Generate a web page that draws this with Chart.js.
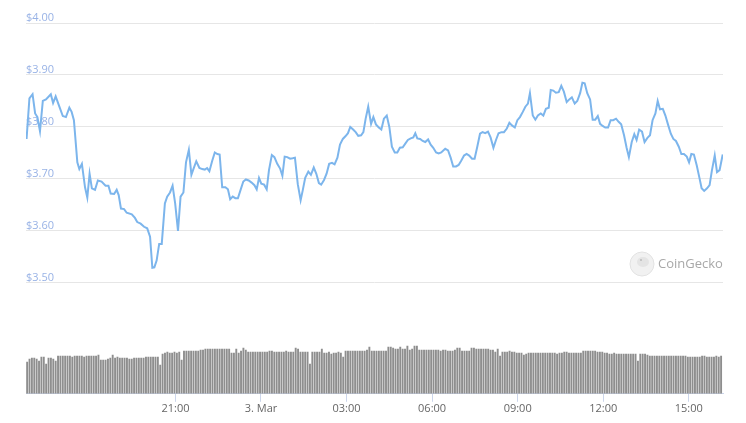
<!DOCTYPE html>
<html>
<head>
<meta charset="utf-8">
<script src="https://cdn.jsdelivr.net/npm/chart.js@4"></script>
<style>
  html, body { margin: 0; padding: 0; background: #fff; }
  #wrap { width: 746px; height: 423px; }
</style>
</head>
<body>
<div id="wrap"><canvas id="chart"></canvas></div>
<script>
// time in hours from 2 Mar 00:00 (24 = 3 Mar 00:00)
const priceTimes = [
  15.78, 15.88, 15.99, 16.08, 16.16, 16.25, 16.35, 16.46, 16.63, 16.71,
  16.80, 16.93, 17.05, 17.16, 17.28, 17.36, 17.44, 17.56, 17.63, 17.72,
  17.83, 17.91, 17.99, 18.07, 18.18, 18.28, 18.41, 18.55, 18.65, 18.73,
  18.85, 18.94, 19.01, 19.09, 19.20, 19.29, 19.47, 19.58, 19.66, 19.78,
  19.90, 20.01, 20.11, 20.19, 20.26, 20.34, 20.43, 20.52, 20.63, 20.71,
  20.81, 20.90, 20.99, 21.09, 21.18, 21.28, 21.37, 21.47, 21.56, 21.63,
  21.73, 21.84, 21.94, 22.03, 22.11, 22.19, 22.29, 22.38, 22.47, 22.55,
  22.64, 22.75, 22.84, 22.92, 23.01, 23.10, 23.19, 23.29, 23.38, 23.47,
  23.57, 23.67, 23.77, 23.85, 23.93, 24.01, 24.11, 24.20, 24.28, 24.38,
  24.47, 24.57, 24.67, 24.75, 24.83, 24.92, 25.02, 25.11, 25.19, 25.29,
  25.39, 25.46, 25.55, 25.66, 25.75, 25.85, 25.94, 26.03, 26.11, 26.21,
  26.30, 26.39, 26.49, 26.58, 26.68, 26.77, 26.87, 26.96, 27.05, 27.13,
  27.23, 27.32, 27.41, 27.51, 27.59, 27.67, 27.76, 27.86, 27.94, 28.03,
  28.13, 28.22, 28.31, 28.41, 28.50, 28.59, 28.69, 28.78, 28.87, 28.97,
  29.06, 29.15, 29.25, 29.34, 29.41, 29.48, 29.58, 29.67, 29.76, 29.86,
  29.95, 30.04, 30.14, 30.23, 30.32, 30.46, 30.56, 30.65, 30.74, 30.84,
  30.93, 31.02, 31.12, 31.21, 31.30, 31.40, 31.49, 31.58, 31.68, 31.77,
  31.86, 31.96, 32.05, 32.15, 32.24, 32.33, 32.43, 32.52, 32.62, 32.71,
  32.80, 32.90, 32.99, 33.08, 33.18, 33.27, 33.36, 33.43, 33.53, 33.62,
  33.71, 33.81, 33.90, 33.99, 34.09, 34.16, 34.25, 34.34, 34.44, 34.53,
  34.62, 34.72, 34.81, 34.90, 35.00, 35.09, 35.19, 35.27, 35.35, 35.44,
  35.54, 35.63, 35.72, 35.81, 35.89, 35.98, 36.07, 36.17, 36.26, 36.35,
  36.45, 36.54, 36.63, 36.73, 36.82, 36.90, 37.00, 37.09, 37.17, 37.26,
  37.36, 37.45, 37.55, 37.64, 37.73, 37.83, 37.91, 37.99, 38.09, 38.18,
  38.27, 38.37, 38.46, 38.55, 38.65, 38.74, 38.83, 38.93, 39.01, 39.09,
  39.18, 39.28, 39.37, 39.45, 39.54, 39.64, 39.73, 39.81, 39.91, 39.99,
  40.08, 40.19
];
const prices = [
  3.777, 3.855, 3.863, 3.826, 3.819, 3.792, 3.850, 3.853, 3.863, 3.846,
  3.859, 3.839, 3.821, 3.819, 3.837, 3.829, 3.813, 3.732, 3.719, 3.729,
  3.684, 3.664, 3.710, 3.682, 3.679, 3.697, 3.695, 3.687, 3.687, 3.672,
  3.671, 3.679, 3.669, 3.643, 3.642, 3.635, 3.632, 3.625, 3.617, 3.614,
  3.608, 3.605, 3.589, 3.529, 3.530, 3.543, 3.575, 3.575, 3.653, 3.666,
  3.674, 3.687, 3.653, 3.600, 3.666, 3.674, 3.732, 3.756, 3.708, 3.719,
  3.734, 3.721, 3.719, 3.718, 3.721, 3.715, 3.735, 3.751, 3.748, 3.747,
  3.684, 3.684, 3.680, 3.661, 3.666, 3.663, 3.663, 3.680, 3.695, 3.699,
  3.697, 3.693, 3.688, 3.680, 3.702, 3.691, 3.689, 3.680, 3.717, 3.746,
  3.742, 3.729, 3.720, 3.706, 3.743, 3.742, 3.739, 3.740, 3.741, 3.690,
  3.659, 3.677, 3.702, 3.714, 3.708, 3.722, 3.710, 3.692, 3.689, 3.698,
  3.710, 3.729, 3.731, 3.728, 3.741, 3.766, 3.777, 3.782, 3.788, 3.800,
  3.795, 3.790, 3.783, 3.784, 3.790, 3.816, 3.839, 3.806, 3.819, 3.805,
  3.799, 3.795, 3.816, 3.822, 3.800, 3.762, 3.751, 3.751, 3.760, 3.761,
  3.768, 3.775, 3.778, 3.780, 3.788, 3.778, 3.777, 3.773, 3.771, 3.776,
  3.766, 3.760, 3.751, 3.749, 3.751, 3.758, 3.755, 3.741, 3.724, 3.724,
  3.727, 3.735, 3.745, 3.748, 3.745, 3.739, 3.739, 3.761, 3.787, 3.790,
  3.788, 3.791, 3.780, 3.760, 3.775, 3.788, 3.790, 3.790, 3.797, 3.808,
  3.803, 3.799, 3.813, 3.819, 3.829, 3.839, 3.845, 3.865, 3.822, 3.814,
  3.822, 3.826, 3.822, 3.835, 3.837, 3.871, 3.870, 3.866, 3.867, 3.879,
  3.868, 3.848, 3.853, 3.857, 3.845, 3.850, 3.865, 3.885, 3.884, 3.865,
  3.853, 3.814, 3.814, 3.821, 3.806, 3.802, 3.799, 3.799, 3.813, 3.813,
  3.816, 3.810, 3.805, 3.784, 3.760, 3.742, 3.771, 3.786, 3.775, 3.795,
  3.791, 3.771, 3.779, 3.784, 3.813, 3.826, 3.850, 3.834, 3.835, 3.822,
  3.805, 3.787, 3.777, 3.773, 3.762, 3.748, 3.748, 3.743, 3.732, 3.748,
  3.747, 3.726, 3.703, 3.682, 3.677, 3.682, 3.688, 3.716, 3.745, 3.713,
  3.717, 3.747
];

// 5 minute volume bars (in $M), first bar at 15:48
const volStart = 15.80;
const volStep = 1 / 12;
const volumes = [
  3.2, 3.5, 3.6, 3.6, 3.5, 3.3, 3.7, 3.7, 3.0, 3.6,
  3.6, 3.5, 3.3, 3.8, 3.8, 3.8, 3.8, 3.8, 3.8, 3.7,
  3.8, 3.8, 3.8, 3.8, 3.7, 3.8, 3.8, 3.8, 3.8, 3.8,
  3.9, 3.4, 3.4, 3.4, 3.5, 3.6, 3.9, 3.6, 3.7, 3.6,
  3.6, 3.6, 3.6, 3.5, 3.5, 3.6, 3.6, 3.6, 3.6, 3.6,
  3.7, 3.7, 3.7, 3.7, 3.7, 3.7, 2.9, 4.0, 4.1, 4.2,
  4.1, 4.1, 4.2, 4.1, 4.2, 3.4, 4.3, 4.3, 4.3, 4.3,
  4.3, 4.3, 4.3, 4.4, 4.4, 4.5, 4.5, 4.5, 4.5, 4.5,
  4.5, 4.5, 4.5, 4.5, 4.5, 4.5, 4.1, 4.1, 4.5, 4.1,
  4.3, 4.6, 4.4, 4.2, 4.2, 4.2, 4.2, 4.2, 4.2, 4.2,
  4.2, 4.2, 4.3, 4.3, 4.2, 4.2, 4.2, 4.2, 4.2, 4.3,
  4.2, 4.2, 4.2, 4.6, 4.5, 4.2, 4.2, 4.2, 4.2, 3.0,
  4.2, 4.2, 4.2, 4.2, 4.5, 4.1, 4.1, 4.2, 4.0, 4.1,
  4.1, 4.2, 4.1, 3.7, 4.3, 4.3, 4.3, 4.3, 4.3, 4.3,
  4.3, 4.3, 4.3, 4.4, 4.7, 4.3, 4.3, 4.3, 4.3, 4.3,
  4.3, 4.3, 4.7, 4.7, 4.6, 4.5, 4.5, 4.7, 4.5, 4.5,
  4.8, 4.4, 4.5, 4.8, 4.8, 4.4, 4.4, 4.4, 4.4, 4.4,
  4.4, 4.4, 4.4, 4.4, 4.3, 4.4, 4.4, 4.3, 4.3, 4.3,
  4.4, 4.6, 4.6, 4.3, 4.3, 4.3, 4.3, 4.6, 4.6, 4.5,
  4.5, 4.5, 4.5, 4.5, 4.5, 4.4, 4.4, 4.2, 4.5, 3.8,
  4.2, 4.2, 4.2, 4.3, 4.2, 4.2, 4.1, 4.1, 4.1, 3.9,
  4.0, 4.1, 4.1, 4.1, 4.1, 4.1, 4.1, 4.1, 4.1, 4.1,
  4.1, 4.1, 4.1, 4.0, 4.1, 4.1, 4.2, 4.2, 4.1, 4.1,
  4.1, 4.1, 4.1, 4.1, 4.3, 4.3, 4.3, 4.3, 4.3, 4.3,
  4.2, 4.2, 4.2, 4.1, 4.1, 4.0, 4.0, 4.1, 4.0, 4.0,
  4.0, 4.0, 4.0, 4.0, 4.0, 4.0, 4.0, 3.3, 4.0, 4.0,
  4.0, 3.9, 3.8, 3.8, 3.8, 3.8, 3.8, 3.8, 3.8, 3.8,
  3.8, 3.8, 3.8, 3.8, 3.8, 3.8, 3.8, 3.8, 3.7, 3.7,
  3.7, 3.7, 3.7, 3.7, 3.8, 3.8, 3.7, 3.7, 3.7, 3.7,
  3.8, 3.7, 3.8
];

const tickHours = [21, 24, 27, 30, 33, 36, 39];
const tickLabels = ['21:00', '3. Mar', '03:00', '06:00', '09:00', '12:00', '15:00'];
const priceTicks = [3.5, 3.6, 3.7, 3.8, 3.9, 4.0];

const fontFamily = "'Open Sans', 'Liberation Sans', sans-serif";

// CoinGecko watermark, bottom right of the price area
const watermark = {
  id: 'watermark',
  afterDraw(chart) {
    const c = chart.ctx;
    c.save();
    c.beginPath();
    c.arc(642, 264, 12, 0, Math.PI * 2);
    c.fillStyle = '#f1f1f1';
    c.fill();
    c.strokeStyle = '#e2e2e2';
    c.lineWidth = 1;
    c.stroke();
    // head shape
    c.beginPath();
    c.ellipse(643, 262, 6, 5, 0, 0, Math.PI * 2);
    c.fillStyle = '#e4e4e4';
    c.fill();
    c.beginPath();
    c.arc(641, 260, 1, 0, Math.PI * 2);
    c.fillStyle = '#bbb';
    c.fill();
    c.fillStyle = '#a8a8a8';
    c.font = '13px ' + fontFamily;
    c.textBaseline = 'middle';
    c.fillText('CoinGecko', 658, 264);
    c.restore();
  }
};

const ctx = document.getElementById('chart').getContext('2d');
new Chart(ctx, {
  type: 'line',
  data: {
    datasets: [
      {
        type: 'line',
        label: 'Price',
        data: priceTimes.map((t, i) => ({ x: t, y: prices[i] })),
        yAxisID: 'y',
        borderColor: '#7cb5ec',
        borderWidth: 2,
        pointRadius: 0,
        tension: 0,
        fill: false
      },
      {
        type: 'bar',
        label: 'Volume',
        data: volumes.map((v, i) => ({ x: volStart + i * volStep, y: v })),
        yAxisID: 'vol',
        backgroundColor: '#8e8e8e',
        barPercentage: 0.8,
        categoryPercentage: 1
      }
    ]
  },
  options: {
    animation: false,
    responsive: true,
    maintainAspectRatio: false,
    layout: { padding: { left: 26, right: 23, top: 23, bottom: 8 } },
    plugins: { legend: { display: false }, tooltip: { enabled: false } },
    scales: {
      x: {
        type: 'linear',
        min: 15.76,
        max: 40.2,
        offset: false,
        afterBuildTicks: s => { s.ticks = tickHours.map(v => ({ value: v })); },
        ticks: {
          autoSkip: false,
          maxRotation: 0,
          color: '#666666',
          padding: 0,
          font: { size: 11, family: fontFamily },
          callback: v => tickLabels[tickHours.indexOf(v)]
        },
        grid: { drawOnChartArea: false, color: '#ccd6eb', tickLength: 8, offset: false },
        border: { color: '#ccd6eb' }
      },
      y: {
        position: 'left',
        min: 3.2867,
        max: 4.0,
        afterBuildTicks: s => { s.ticks = priceTicks.map(v => ({ value: v })); },
        ticks: {
          mirror: true,
          padding: 0,
          labelOffset: -5,
          color: '#99b3e6',
          font: { size: 11, family: fontFamily },
          callback: v => '$' + v.toFixed(2)
        },
        grid: { color: '#e6e6e6', drawTicks: false },
        border: { display: false }
      },
      vol: {
        display: false,
        min: 0,
        max: 37
      }
    }
  },
  plugins: [watermark]
});
</script>
</body>
</html>
